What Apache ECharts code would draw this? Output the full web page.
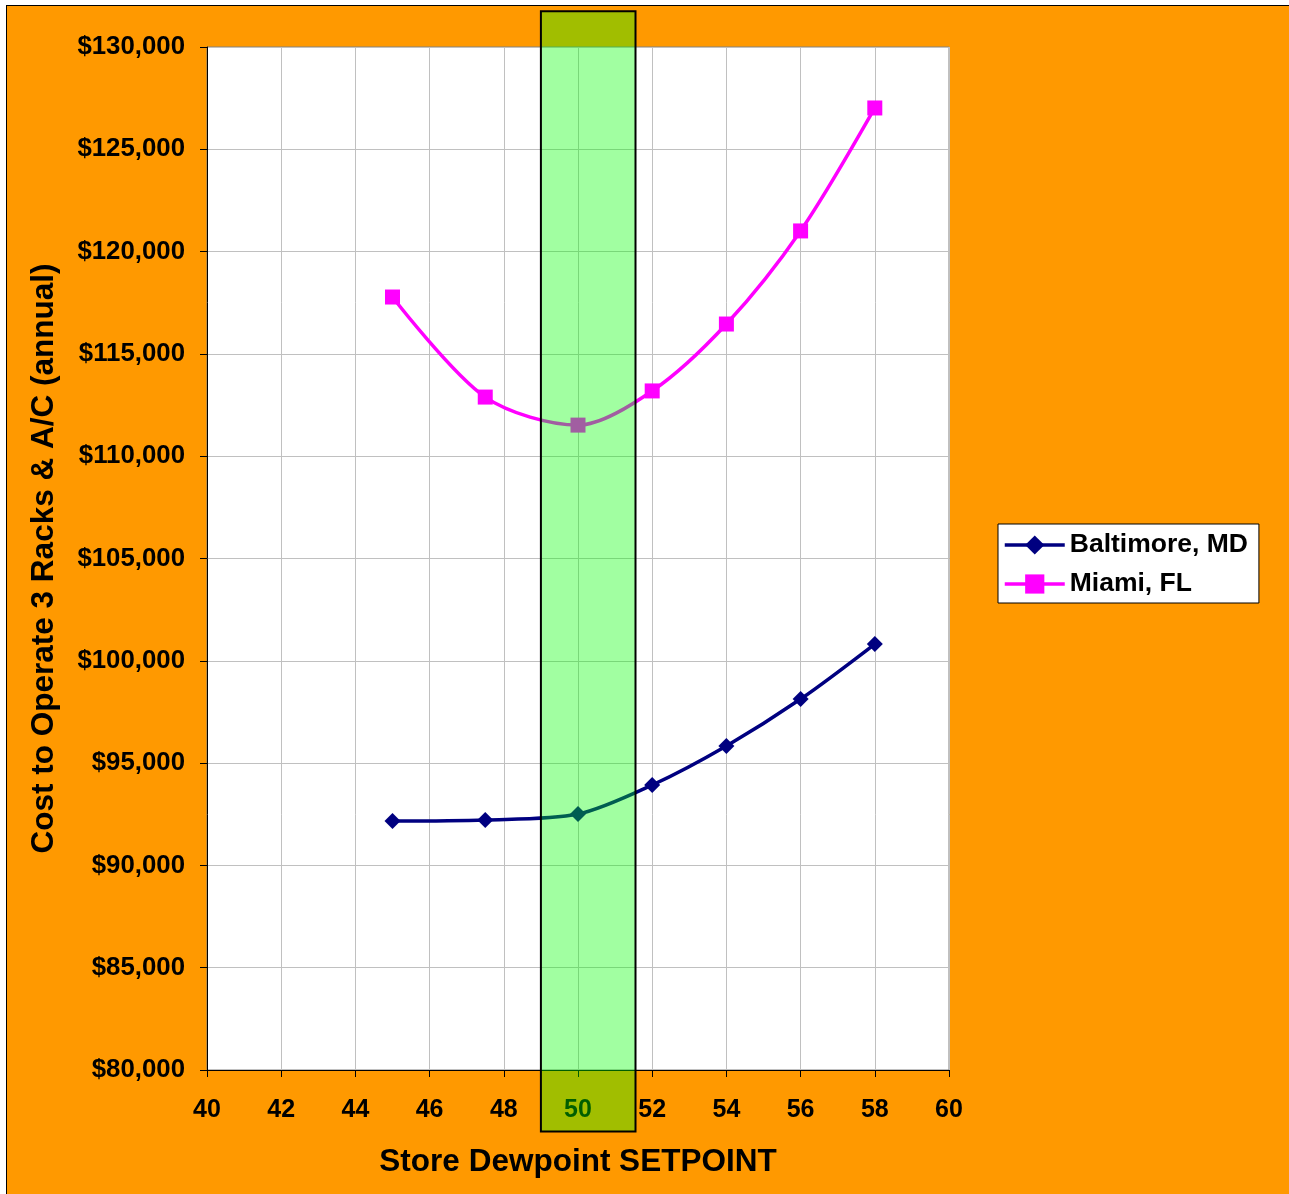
<!DOCTYPE html>
<html><head><meta charset="utf-8">
<script src="https://cdn.jsdelivr.net/npm/echarts@6/dist/echarts.min.js"></script>
<style>
html,body{margin:0;padding:0;background:#fff;overflow:hidden;}
#frame{position:absolute;left:6px;top:5px;width:1300px;height:1200px;background:#FF9900;border-left:1px solid #000;border-top:1px solid #000;}
#chart{position:absolute;left:0;top:0;width:1289px;height:1194px;}
</style></head>
<body>
<div id="frame"></div>
<div id="chart"></div>
<script>
var dewpoints = [45, 47.5, 50, 52, 54, 56, 58];
var baltimore = [92170, 92220, 92510, 93930, 95840, 98130, 100820];
var miami = [117780, 112890, 111520, 113190, 116460, 121010, 127020];
var bandRange = [49, 51.55];
var seriesNames = ['Baltimore, MD', 'Miami, FL'];
var xTitle = 'Store Dewpoint SETPOINT';
var yTitle = 'Cost to Operate 3 Racks & A/C (annual)';

var font = 'Liberation Sans, Arial, sans-serif';
var chart = echarts.init(document.getElementById('chart'), null, {renderer:'canvas'});
function pairs(xs, ys){ return xs.map(function(x,i){return [x, ys[i]];}); }
var option = {
  backgroundColor: 'transparent',
  animation: false,
  textStyle: {fontFamily: font},
  grid: {left: 207, right: 340, top: 47, bottom: 124, show: true, backgroundColor: '#fff', borderColor: '#808080', borderWidth: 1},
  legend: {
    orient: 'vertical', left: 998, top: 524,
    backgroundColor: '#fff', borderColor: '#000', borderWidth: 1,
    padding: [6, 11, 4, 5],
    itemWidth: 60, itemHeight: 24, itemGap: 9,
    lineStyle: {width: 3.5},
    textStyle: {fontFamily: font, fontWeight: 'bold', fontSize: 26.5, color: '#000', lineHeight: 30},
    data: seriesNames
  },
  xAxis: {
    type: 'value', min: 40, max: 60, interval: 2,
    name: xTitle, nameLocation: 'middle', nameGap: 76,
    nameTextStyle: {fontFamily: font, fontWeight: 'bold', fontSize: 31.5, color: '#000'},
    axisLine: {show: true, lineStyle: {color: '#000', width: 1}},
    axisTick: {show: true, inside: false, length: 7, lineStyle: {color: '#000'}},
    axisLabel: {margin: 28, fontFamily: font, fontWeight: 'bold', fontSize: 25, color: '#000'},
    splitLine: {show: true, lineStyle: {color: '#C0C0C0', width: 1}}
  },
  yAxis: {
    type: 'value', min: 80000, max: 130000, interval: 5000,
    name: yTitle, nameLocation: 'middle', nameGap: 147,
    nameTextStyle: {fontFamily: font, fontWeight: 'bold', fontSize: 31.5, color: '#000'},
    axisLine: {show: true, lineStyle: {color: '#000', width: 1}},
    axisTick: {show: true, inside: false, length: 7, lineStyle: {color: '#000'}},
    axisLabel: {margin: 22, fontFamily: font, fontWeight: 'bold', fontSize: 25.8, color: '#000',
      padding: [3, 0, 0, 0],
      formatter: function(v){ return '$' + v.toLocaleString('en-US'); }},
    splitLine: {show: true, lineStyle: {color: '#C0C0C0', width: 1}}
  },
  series: [
    {name: seriesNames[0], type: 'line', data: pairs(dewpoints, baltimore), smooth: 0.3,
     symbol: 'diamond', symbolSize: 16, itemStyle: {color: '#000080'}, lineStyle: {color: '#000080', width: 3.5}},
    {name: seriesNames[1], type: 'line', data: pairs(dewpoints, miami), smooth: 0.3,
     symbol: 'rect', symbolSize: 15, itemStyle: {color: '#FF00FF'}, lineStyle: {color: '#FF00FF', width: 3.5}}
  ]
};
chart.setOption(option);
var x0 = chart.convertToPixel({xAxisIndex: 0}, bandRange[0]);
var x1 = chart.convertToPixel({xAxisIndex: 0}, bandRange[1]);
var yTop = chart.convertToPixel({yAxisIndex: 0}, 131750);
var yBot = chart.convertToPixel({yAxisIndex: 0}, 77000);
chart.setOption({graphic: [{
  type: 'rect', z: 100, zlevel: 1,
  shape: {x: x0, y: yTop, width: x1 - x0, height: yBot - yTop},
  style: {fill: 'rgba(0,255,0,0.37)', stroke: '#000', lineWidth: 2}
}]});
</script>
</body></html>
